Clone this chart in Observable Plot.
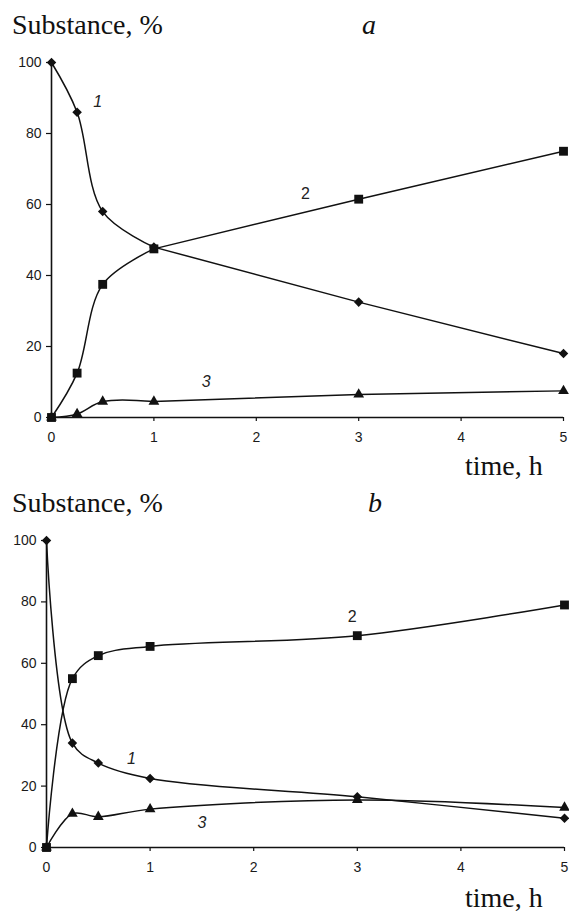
<!DOCTYPE html>
<html>
<head>
<meta charset="utf-8">
<script src="https://cdn.jsdelivr.net/npm/d3@7"></script>
<script src="https://cdn.jsdelivr.net/npm/@observablehq/plot@0.6"></script>
<style>
  html, body { margin: 0; padding: 0; background: #fff; }
  #root { position: relative; width: 569px; height: 916px; overflow: hidden; }
  .panel { position: absolute; left: 0; }
  .txt { position: absolute; font-family: "Liberation Serif", "Times New Roman", serif; font-size: 28px; line-height: 28px; color: #111; white-space: nowrap; }
  .it { font-style: italic; }
</style>
</head>
<body>
<div id="root">
  <div class="txt" style="left:12px; top:11px;">Substance, %</div>
  <div class="txt it" style="left:362px; top:11px;">a</div>
  <div class="txt" style="left:465px; top:452px;">time, h</div>
  <div class="txt" style="left:12px; top:489px;">Substance, %</div>
  <div class="txt it" style="left:368px; top:489px;">b</div>
  <div class="txt" style="left:465px; top:884px;">time, h</div>
</div>
<script>
// ---- data ----
const times = [0, 0.25, 0.5, 1, 3, 5];
const a1 = [100, 86, 58, 48, 32.5, 18];
const a2 = [0, 12.5, 37.5, 47.5, 61.5, 75];
const a3 = [0, 1, 4.5, 4.5, 6.5, 7.5];
const b1 = [100, 34, 27.5, 22.5, 16.5, 9.5];
const b2 = [0, 55, 62.5, 65.5, 69, 79];
const b3 = [0, 11, 10, 12.5, 15.5, 13];
const xTicks = [0, 1, 2, 3, 4, 5];
const yTicks = [0, 20, 40, 60, 80, 100];
const aLabels = [
  {t: 0.45, v: 89, text: "1", italic: true},
  {t: 2.48, v: 63, text: "2", italic: false},
  {t: 1.51, v: 10, text: "3", italic: true}
];
const bLabels = [
  {t: 2.95, v: 75, text: "2", italic: false},
  {t: 0.82, v: 29, text: "1", italic: true},
  {t: 1.5, v: 8, text: "3", italic: true}
];

function rows(vals) { return times.map((t, i) => ({t, v: vals[i]})); }

// smoothEnd: time up to which the curve is smoothed; after it, straight segments
function panel(s1, s2, s3, labels, opts) {
  const series = [rows(s1), rows(s2), rows(s3)];
  const lineOpts = {x: "t", y: "v", stroke: "#111", strokeWidth: 1.5};
  const lineMarks = [];
  for (const d of series) {
    const smooth = d.filter(p => p.t <= opts.smoothEnd);
    const straight = d.filter(p => p.t >= opts.smoothEnd);
    lineMarks.push(Plot.line(smooth, {...lineOpts, curve: "catmull-rom"}));
    if (straight.length > 1) lineMarks.push(Plot.line(straight, {...lineOpts, curve: "linear"}));
  }
  return Plot.plot({
    width: 569,
    height: opts.height,
    marginLeft: opts.ml,
    marginRight: opts.mr,
    marginTop: opts.mt,
    marginBottom: opts.mb,
    style: {fontFamily: "'Liberation Sans', Arial, sans-serif", fontSize: "14px", color: "#1a1a1a", background: "transparent", overflow: "visible"},
    x: {domain: [0, 5]},
    y: {domain: [0, 100]},
    marks: [
      Plot.axisY({ticks: yTicks, tickSize: 5, tickPadding: 5, label: null, fontSize: 14, tickFormat: d3.format("d"), stroke: "#111", strokeWidth: 1.2}),
      Plot.axisX({ticks: xTicks, tickSize: 4, tickPadding: 11, label: null, fontSize: 14, tickFormat: d3.format("d"), stroke: "#111", strokeWidth: 1.2}),
      Plot.ruleX([0], {y1: 0, y2: 100, stroke: "#111", strokeWidth: 1.6}),
      Plot.ruleY([0], {x1: 0, x2: 5, stroke: "#111", strokeWidth: 1.6}),
      ...lineMarks,
      Plot.dot(series[0], {x: "t", y: "v", symbol: "square", r: 3.8, rotate: 45, fill: "#111"}),
      Plot.dot(series[1], {x: "t", y: "v", symbol: "square", r: 5, fill: "#111"}),
      Plot.dot(series[2], {x: "t", y: "v", symbol: "triangle", r: 4, fill: "#111"}),
      Plot.text(labels.filter(d => d.italic), {x: "t", y: "v", text: "text", fontSize: 16, fontStyle: "italic", fill: "#222"}),
      Plot.text(labels.filter(d => !d.italic), {x: "t", y: "v", text: "text", fontSize: 16, fill: "#222"})
    ]
  });
}

const root = document.getElementById("root");
const pa = panel(a1, a2, a3, aLabels, {height: 460, ml: 51, mr: 6, mt: 62, mb: 43, smoothEnd: 1});
pa.classList.add("panel");
pa.style.top = "0px";
root.insertBefore(pa, root.firstChild);
const pb = panel(b1, b2, b3, bLabels, {height: 456, ml: 46, mr: 5, mt: 80, mb: 69, smoothEnd: 5});
pb.classList.add("panel");
pb.style.top = "460px";
root.insertBefore(pb, root.firstChild);
</script>
</body>
</html>
